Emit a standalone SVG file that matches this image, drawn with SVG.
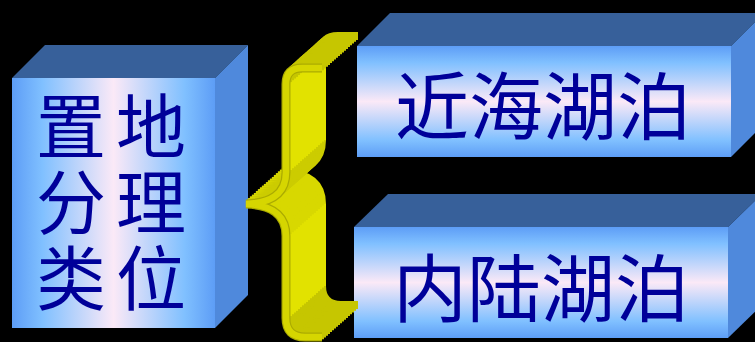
<svg xmlns="http://www.w3.org/2000/svg" xmlns:xlink="http://www.w3.org/1999/xlink" width="755" height="342" viewBox="0 0 755 342">
<style>
.top{fill:#37609a}
.side{fill:#4f89dc}
.lbl{font-family:"Noto Sans CJK SC","Noto Sans",sans-serif;fill:#000099;text-anchor:middle}
.vert{font-family:"Noto Sans CJK SC","Noto Sans",sans-serif;fill:#000099;writing-mode:vertical-rl;letter-spacing:6px}
.seg{fill:none;stroke-width:8;stroke-linecap:butt}
.bright{stroke:#e2e200}
.dark{stroke:#c6c600}
.mid1{stroke:#cccc00}
.mid2{stroke:#d8d800}
</style>
<defs>
<linearGradient id="hg" x1="0" y1="0" x2="1" y2="0">
<stop offset="0" stop-color="#5d9df6"/>
<stop offset="0.15" stop-color="#80c0ff"/>
<stop offset="0.5" stop-color="#fbe9f7"/>
<stop offset="0.85" stop-color="#80c0ff"/>
<stop offset="1" stop-color="#5d9df6"/>
</linearGradient>
<linearGradient id="vg" x1="0" y1="0" x2="0" y2="1">
<stop offset="0" stop-color="#5d9df6"/>
<stop offset="0.15" stop-color="#80c0ff"/>
<stop offset="0.5" stop-color="#fbe9f7"/>
<stop offset="0.85" stop-color="#80c0ff"/>
<stop offset="1" stop-color="#5d9df6"/>
</linearGradient>
<g id="slice">
<path class="seg dark" d="M322,68 L302,68 Q286,68 286,84"/>
<path class="seg bright" d="M286,84 L286,172"/>
<path class="seg mid1" d="M286,172 C286,195 270,203 246,204"/>
<path class="seg mid2" d="M246,204 C270,205 286,213 286,236"/>
<path class="seg bright" d="M286,236 L286,318"/>
<path class="seg dark" d="M286,318 Q286,337 305,337 L322,337"/>
</g>
</defs>
<rect width="755" height="342" fill="#000"/>
<g id="node-classification">
<polygon class="top" points="12,78 45,45 248,45 215,78"/>
<polygon class="side" points="215,78 248,45 248,295 215,328"/>
<rect x="12" y="78" width="203" height="250" fill="url(#hg)"/>
<text class="vert" font-size="70" x="151" y="91">地理位</text>
<text class="vert" font-size="70" x="71" y="91">置分类</text>
</g>
<g id="node-coastal">
<polygon class="top" points="357,46 390,13 764,13 731,46"/>
<polygon class="side" points="731,46 764,13 764,124 731,157"/>
<rect x="357" y="46" width="374" height="111" fill="url(#vg)"/>
<text class="lbl" font-size="74" x="543" y="134">近海湖泊</text>
</g>
<g id="node-inland">
<polygon class="top" points="354,227 388,194 762,194 728,227"/>
<polygon class="side" points="728,227 762,194 762,305 728,338"/>
<rect x="354" y="227" width="374" height="111" fill="url(#vg)"/>
<text class="lbl" font-size="74" x="541" y="316">内陆湖泊</text>
</g>
<g id="connectors">
<use xlink:href="#slice" x="36" y="-32"/>
<use xlink:href="#slice" x="34" y="-30.22"/>
<use xlink:href="#slice" x="32" y="-28.44"/>
<use xlink:href="#slice" x="30" y="-26.67"/>
<use xlink:href="#slice" x="28" y="-24.89"/>
<use xlink:href="#slice" x="26" y="-23.11"/>
<use xlink:href="#slice" x="24" y="-21.33"/>
<use xlink:href="#slice" x="22" y="-19.56"/>
<use xlink:href="#slice" x="20" y="-17.78"/>
<use xlink:href="#slice" x="18" y="-16"/>
<use xlink:href="#slice" x="16" y="-14.22"/>
<use xlink:href="#slice" x="14" y="-12.44"/>
<use xlink:href="#slice" x="12" y="-10.67"/>
<use xlink:href="#slice" x="10" y="-8.89"/>
<use xlink:href="#slice" x="8" y="-7.11"/>
<use xlink:href="#slice" x="6" y="-5.33"/>
<use xlink:href="#slice" x="4" y="-3.56"/>
<use xlink:href="#slice" x="2" y="-1.78"/>
<path d="M322,68 L302,68 Q286,68 286,84 L286,172 C286,195 270,203 246,204 C270,205 286,213 286,236 L286,318 Q286,337 305,337 L322,337" fill="none" stroke="#abab00" stroke-width="9"/>
<path d="M322,68 L302,68 Q286,68 286,84 L286,172 C286,195 270,203 246,204 C270,205 286,213 286,236 L286,318 Q286,337 305,337 L322,337" fill="none" stroke="#d6d600" stroke-width="6.5"/>
</g>
</svg>
